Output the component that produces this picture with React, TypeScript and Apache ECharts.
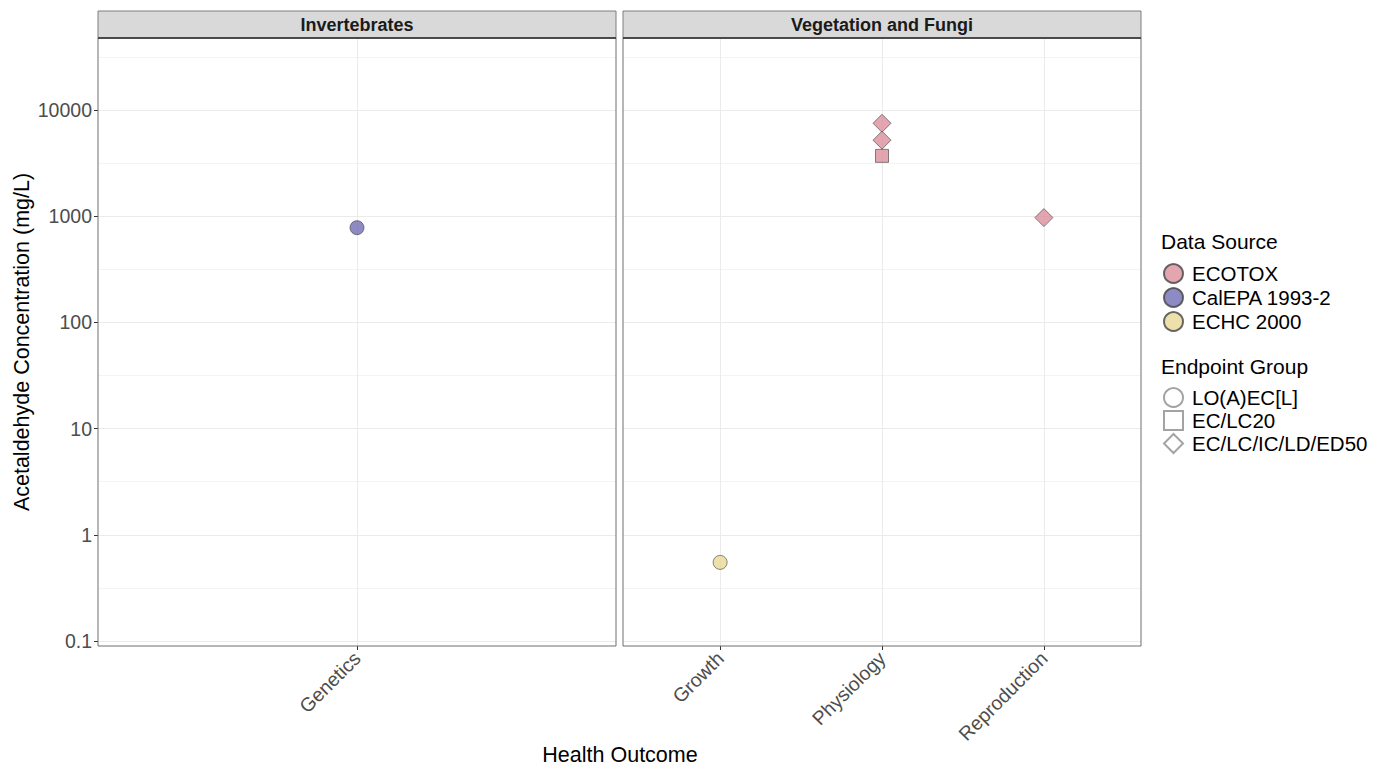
import React, { useEffect, useRef } from "react";
import * as echarts from "echarts";

// Facets and their health-outcome categories
const facetNames = ["Invertebrates", "Vegetation and Fungi"];
const invertebrateOutcomes = ["Genetics"];
const vegetationOutcomes = ["Growth", "Physiology", "Reproduction"];

// Legend groups
const dataSources = ["ECOTOX", "CalEPA 1993-2", "ECHC 2000"];
const sourceColors = ["#DC8F9C", "#726DB4", "#E8D896"];
const endpointGroups = ["LO(A)EC[L]", "EC/LC20", "EC/LC/IC/LD/ED50"];

// Observations (mg/L)
const pointFacet = [1, 1, 1, 1, 0, 1];
const pointOutcome = ["Physiology", "Physiology", "Physiology", "Reproduction", "Genetics", "Growth"];
const pointSource = ["ECOTOX", "ECOTOX", "ECOTOX", "ECOTOX", "CalEPA 1993-2", "ECHC 2000"];
const pointEndpoint = [
  "EC/LC/IC/LD/ED50",
  "EC/LC/IC/LD/ED50",
  "EC/LC20",
  "EC/LC/IC/LD/ED50",
  "LO(A)EC[L]",
  "LO(A)EC[L]",
];
const pointValue = [7500, 5200, 3700, 970, 780, 0.55];

// Axis ticks (log10 scale)
const yTickExponents = [-1, 0, 1, 2, 3, 4];
const yMinorExponents = [-0.5, 0.5, 1.5, 2.5, 3.5, 4.5];
const yTickLabels = ["0.1", "1", "10", "100", "1000", "10000"];

const FONT = "'Liberation Sans', Arial, sans-serif";
const endpointSymbol: Record<string, string> = {
  "LO(A)EC[L]": "circle",
  "EC/LC20": "rect",
  "EC/LC/IC/LD/ED50": "diamond",
};
const endpointSize: Record<string, number> = {
  "LO(A)EC[L]": 14,
  "EC/LC20": 13,
  "EC/LC/IC/LD/ED50": 18,
};

const facetOutcomes = [invertebrateOutcomes, vegetationOutcomes];
const Y_MIN = -1.047;
const Y_MAX = 4.678;

const panels = [
  { left: 98, top: 38, width: 518, height: 608 },
  { left: 623, top: 38, width: 518, height: 608 },
];

export default function App() {
  const ref = useRef<HTMLDivElement>(null);

  useEffect(() => {
    if (!ref.current) return;
    const chart = echarts.init(ref.current, undefined, { renderer: "svg" });

    const grid = panels.map((p) => ({ ...p, containLabel: false }));

    const xAxis = facetOutcomes.map((cats, i) => ({
      type: "value",
      gridIndex: i,
      min: 0.4,
      max: cats.length + 0.6,
      axisLine: { show: false, onZero: false },
      axisTick: {
        show: true,
        length: 4,
        lineStyle: { color: "#333333" },
        customValues: cats.map((_, k) => k + 1),
      },
      axisLabel: {
        customValues: cats.map((_, k) => k + 1),
        formatter: (v: number) => cats[Math.round(v) - 1] ?? "",
        rotate: 45,
        fontSize: 19.5,
        color: "#4D4D4D",
        fontFamily: FONT,
        margin: 9,
      },
      splitLine: { show: true, lineStyle: { color: "#EBEBEB", width: 1 } },
    }));

    const yAxis: any[] = [];
    panels.forEach((_, i) => {
      yAxis.push({
        type: "value",
        gridIndex: i,
        min: Y_MIN,
        max: Y_MAX,
        axisLine: { show: false, onZero: false },
        axisTick: {
          show: i === 0,
          length: 4,
          lineStyle: { color: "#333333" },
          customValues: yTickExponents,
        },
        axisLabel: {
          show: i === 0,
          customValues: yTickExponents,
          formatter: (v: number) => yTickLabels[yTickExponents.indexOf(Math.round(v))] ?? "",
          fontSize: 19.5,
          color: "#4D4D4D",
          fontFamily: FONT,
          margin: 6,
        },
        splitLine: { show: true, lineStyle: { color: "#EBEBEB", width: 1 } },
        name: i === 0 ? "Acetaldehyde Concentration (mg/L)" : "",
        nameLocation: "middle",
        nameGap: 65,
        nameRotate: 90,
        nameTextStyle: { fontSize: 21.5, color: "#000000", fontFamily: FONT },
      });
    });
    // minor gridlines at half decades
    panels.forEach((_, i) => {
      yAxis.push({
        type: "value",
        gridIndex: i,
        min: Y_MIN,
        max: Y_MAX,
        position: "left",
        axisLine: { show: false, onZero: false },
        axisTick: { show: false, customValues: yMinorExponents },
        axisLabel: { show: false, customValues: yMinorExponents },
        splitLine: { show: true, lineStyle: { color: "#F4F4F4", width: 1 } },
      });
    });

    const series: any[] = [];
    dataSources.forEach((src, si) => {
      facetNames.forEach((_, fi) => {
        const data: any[] = [];
        pointValue.forEach((v, k) => {
          if (pointSource[k] !== src || pointFacet[k] !== fi) return;
          const cats = facetOutcomes[fi];
          const ep = pointEndpoint[k];
          data.push({
            value: [cats.indexOf(pointOutcome[k]) + 1, Math.log10(v)],
            symbol: endpointSymbol[ep],
            symbolSize: endpointSize[ep],
          });
        });
        if (!data.length) return;
        series.push({
          name: src,
          type: "scatter",
          xAxisIndex: fi,
          yAxisIndex: fi,
          data,
          z: 5,
          itemStyle: { color: sourceColors[si], borderColor: "#444444", borderWidth: 0.8 },
        });
      });
    });
    // Shape-legend entries (no marks)
    endpointGroups.forEach((ep) => {
      series.push({
        name: ep,
        type: "scatter",
        xAxisIndex: 0,
        yAxisIndex: 0,
        data: [],
        symbol: endpointSymbol[ep],
        itemStyle: { color: "#FFFFFF", borderColor: "#8C8C8C", borderWidth: 1 },
      });
    });

    const graphic: any[] = [];
    panels.forEach((p, i) => {
      // strip
      graphic.push({
        type: "rect",
        shape: { x: p.left, y: 11, width: p.width, height: 27 },
        style: { fill: "#D9D9D9", stroke: "#7F7F7F", lineWidth: 1 },
        z: 10,
      });
      graphic.push({
        type: "line",
        shape: { x1: p.left, y1: 38, x2: p.left + p.width, y2: 38 },
        style: { stroke: "#333333", lineWidth: 1.4 },
        z: 11,
      });
      graphic.push({
        type: "text",
        x: p.left + p.width / 2,
        y: 25,
        style: {
          text: facetNames[i],
          fontSize: 18,
          fontWeight: "bold",
          fontFamily: FONT,
          fill: "#1A1A1A",
          align: "center",
          verticalAlign: "middle",
        },
        z: 12,
      });
      // panel border
      graphic.push({
        type: "rect",
        shape: { x: p.left, y: p.top, width: p.width, height: p.height },
        style: { fill: "none", stroke: "#6E6E6E", lineWidth: 1 },
        z: 10,
      });
    });
    graphic.push({
      type: "text",
      x: 620,
      y: 755,
      style: {
        text: "Health Outcome",
        fontSize: 21.5,
        fontFamily: FONT,
        fill: "#000000",
        align: "center",
        verticalAlign: "middle",
      },
    });
    graphic.push({
      type: "text",
      x: 1161,
      y: 241,
      style: { text: "Data Source", fontSize: 21, fontFamily: FONT, fill: "#000000", verticalAlign: "middle" },
    });
    graphic.push({
      type: "text",
      x: 1161,
      y: 366,
      style: { text: "Endpoint Group", fontSize: 21, fontFamily: FONT, fill: "#000000", verticalAlign: "middle" },
    });

    const legendText = {
      fontSize: 20.5,
      lineHeight: 20,
      fontFamily: FONT,
      color: "#000000",
      padding: [0, 0, 0, 4],
    };

    chart.setOption({
      animation: false,
      backgroundColor: "#FFFFFF",
      grid,
      xAxis,
      yAxis,
      series,
      graphic,
      legend: [
        {
          data: dataSources.map((s) => ({ name: s, icon: "circle" })),
          orient: "vertical",
          left: 1163,
          top: 263,
          padding: 0,
          itemWidth: 19,
          itemHeight: 19,
          itemGap: 3,
          selectedMode: false,
          textStyle: legendText,
        },
        {
          data: endpointGroups.map((e) => ({ name: e, icon: endpointSymbol[e] })),
          orient: "vertical",
          left: 1163,
          top: 387,
          padding: 0,
          itemWidth: 19,
          itemHeight: 19,
          itemGap: 2,
          selectedMode: false,
          textStyle: legendText,
        },
      ],
    });

    return () => chart.dispose();
  }, []);

  return (
    <div
      ref={ref}
      style={{ position: "fixed", left: 0, top: 0, width: 1375, height: 767, background: "#fff" }}
    />
  );
}
